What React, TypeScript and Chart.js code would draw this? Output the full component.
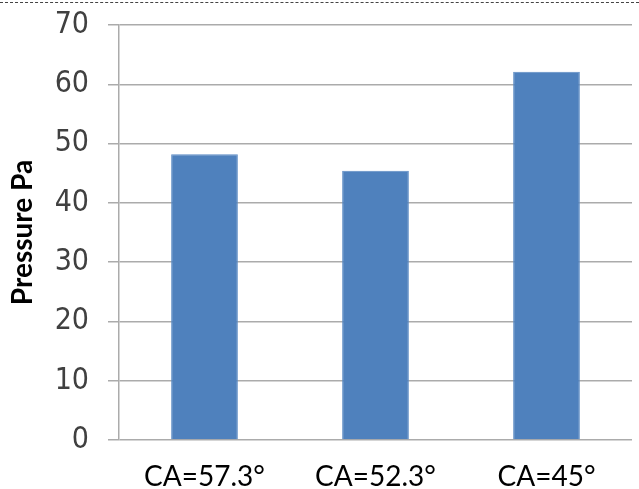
import React, { useEffect, useRef } from "react";
import { Chart, registerables } from "chart.js";

Chart.register(...registerables);

const categories = ["CA=57.3°", "CA=52.3°", "CA=45°"];
const pressureValues = [48.2, 45.4, 62.1];
const yTicks = [0, 10, 20, 30, 40, 50, 60, 70];

export default function App() {
  const ref = useRef<HTMLCanvasElement | null>(null);

  useEffect(() => {
    document.body.style.margin = "0";
    if (!ref.current) return;
    const chart = new Chart(ref.current, {
      type: "bar",
      data: {
        labels: categories,
        datasets: [
          {
            label: "Pressure Pa",
            data: pressureValues,
            backgroundColor: "#4F81BD",
            borderColor: "#5B8BC4",
            borderWidth: 1,
            categoryPercentage: 1,
            barPercentage: 0.39,
          },
        ],
      },
      options: {
        animation: false,
        responsive: false,
        maintainAspectRatio: false,
        layout: { padding: { left: 0, top: 25, right: 7, bottom: 0 } },
        plugins: {
          legend: { display: false },
          tooltip: { enabled: false },
        },
        scales: {
          x: {
            grid: { display: false, drawTicks: false },
            border: { display: false },
            ticks: {
              color: "#000000",
              font: { family: "Lato, 'Open Sans', sans-serif", size: 28 },
              padding: 20,
              maxRotation: 0,
            },
            afterFit: (scale: any) => {
              scale.height = 49;
              scale.paddingLeft = 0;
              scale.paddingRight = 0;
            },
          },
          y: {
            min: 0,
            max: 70,
            afterBuildTicks: (scale: any) => {
              scale.ticks = yTicks.map((v) => ({ value: v }));
            },
            grid: {
              color: "#ABABAB",
              lineWidth: 1.5,
              tickLength: 11,
              drawTicks: true,
            },
            border: { display: true, color: "#ABABAB", width: 1.5 },
            ticks: {
              color: "#404040",
              font: {
                family: "'Liberation Sans Narrow', 'DejaVu Sans Condensed', sans-serif",
                size: 30,
              },
              padding: 19,
            },
            title: {
              display: true,
              text: "Pressure Pa",
              color: "#000000",
              font: { family: "Lato, 'Open Sans', sans-serif", size: 28, weight: "bold" },
              padding: { top: 6, bottom: 0 },
            },
            afterFit: (scale: any) => {
              scale.width = 119;
              scale.paddingTop = 0;
              scale.paddingBottom = 0;
            },
          },
        },
      },
    });
    return () => chart.destroy();
  }, []);

  return (
    <div style={{ position: "relative", width: 639, height: 489, background: "#ffffff" }}>
      <div
        style={{
          position: "absolute",
          left: 0,
          top: 2,
          width: 639,
          height: 0,
          borderTop: "1px dashed #444",
        }}
      />
      <canvas ref={ref} width={639} height={489} style={{ display: "block" }} />
    </div>
  );
}
